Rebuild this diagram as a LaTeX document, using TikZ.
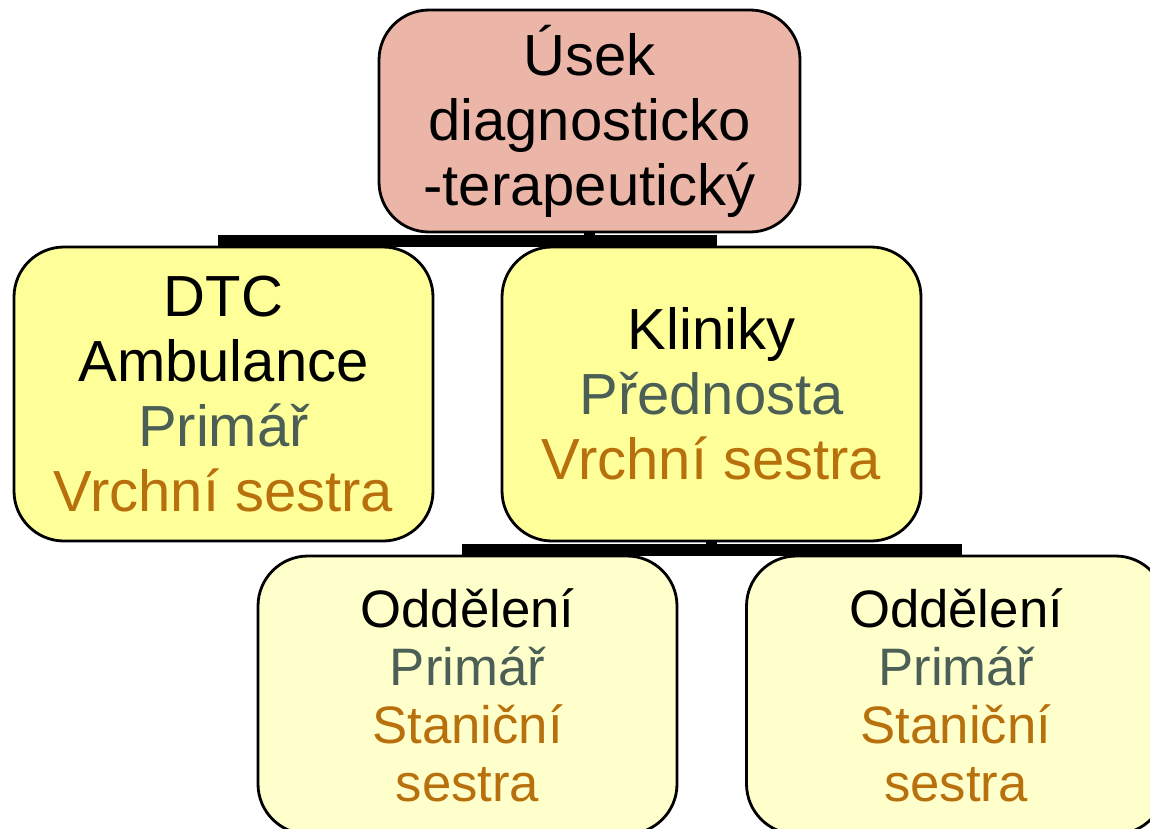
\documentclass[tikz,border=0pt]{standalone}
\usepackage{fontspec}
\setmainfont{Liberation Sans}
\usetikzlibrary{positioning}
\definecolor{roseFill}{HTML}{EBB6A8}
\definecolor{yellowFill}{HTML}{FFFF99}
\definecolor{paleFill}{HTML}{FFFFCC}
\definecolor{chiefText}{HTML}{4B5F56}
\definecolor{nurseText}{HTML}{B8700C}
\tikzset{
  box/.style={draw=black, line width=0.8pt, rounded corners=0.5cm, align=center, inner sep=0pt},
  topbox/.style={box, fill=roseFill, minimum width=4.21cm, minimum height=2.22cm, font=\fontsize{16.5}{18.5}\selectfont},
  midbox/.style={box, fill=yellowFill, minimum width=4.19cm, minimum height=2.94cm, font=\fontsize{16.5}{18.5}\selectfont},
  lowbox/.style={box, fill=paleFill, minimum width=4.19cm, minimum height=2.78cm, font=\fontsize{15}{16.5}\selectfont},
  bar/.style={line width=3.4pt}
}
\begin{document}
\begin{tikzpicture}
\useasboundingbox (0,0) rectangle (11.5,8.28);
\clip (0,0) rectangle (11.5,8.28);
% top level
\node[topbox] (usek) at (5.895,7.07) {Úsek\\diagnosticko\\-terapeutický};
% second level
\node[midbox] (dtc) at (2.235,4.34) {DTC\\Ambulance\\\textcolor{chiefText}{Primář}\\\textcolor{nurseText}{Vrchní sestra}};
\node[midbox] (kli) at (7.115,4.34) {Kliniky\\\textcolor{chiefText}{Přednosta}\\\textcolor{nurseText}{Vrchní sestra}};
% departments
\node[lowbox] (odd1) at (4.675,1.33) {Oddělení\\\textcolor{chiefText}{Primář}\\\textcolor{nurseText}{Staniční}\\\textcolor{nurseText}{sestra}};
\node[lowbox] (odd2) at (9.56,1.33) {Oddělení\\\textcolor{chiefText}{Primář}\\\textcolor{nurseText}{Staniční}\\\textcolor{nurseText}{sestra}};
% connectors
\coordinate (j1) at ([yshift=-0.08cm]usek.south);
\draw[bar] (usek.south) -- (j1);
\draw[bar] (dtc.north) |- (j1) -| (kli.north);
\coordinate (j2) at ([yshift=-0.075cm]kli.south);
\draw[bar] (kli.south) -- (j2);
\draw[bar] (odd1.north) |- (j2) -| (odd2.north);
\end{tikzpicture}
\end{document}
